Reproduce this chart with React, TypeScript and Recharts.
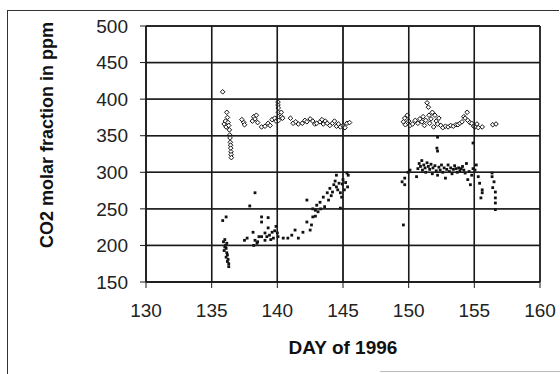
import React from 'react';
import { ScatterChart, Scatter, XAxis, YAxis, CartesianGrid, Label } from 'recharts';

const xTicks = [130, 135, 140, 145, 150, 155, 160];
const yTicks = [150, 200, 250, 300, 350, 400, 450, 500];

// Upper series (open diamonds)
const upperDays = [
  135.84, 136.15, 136.2, 135.95, 136.05, 136.1, 136.25, 136.3,
  136.35, 136.38, 136.4, 136.42, 136.44, 136.45, 136.47, 136.48, 136.5,
  137.3, 137.45, 137.5, 138.1, 138.2, 138.3, 138.4, 138.5,
  138.8, 139.06, 139.3, 139.45, 139.6, 139.8, 139.9,
  140.05, 140.05, 140.07, 140.08, 140.1, 140.1,
  140.3, 140.32, 140.4,
  141.0, 141.2, 141.4, 141.6, 141.9, 142.1, 142.25, 142.5, 142.7, 142.85,
  143.0, 143.25, 143.4, 143.5, 143.65, 143.8, 144.0, 144.2, 144.35, 144.5,
  144.65, 144.8, 145.0, 145.15, 145.3, 145.5,
  149.6, 149.7, 149.75, 149.9, 150.0, 150.1, 150.3, 150.5, 150.7, 150.85,
  151.0, 151.1, 151.2, 151.3, 151.4, 151.5, 151.55, 151.6, 151.7, 151.8,
  151.9, 152.0, 152.1, 152.2, 152.3, 152.45, 152.6, 152.8, 153.0, 153.2,
  153.4, 153.6, 153.75, 153.9, 154.06, 154.2, 154.3, 154.45, 154.5, 154.65,
  154.8, 154.95, 155.05, 155.2, 155.3, 155.6, 156.4, 156.65,
];
const upperValues = [
  410, 382, 375, 366, 370, 362, 368, 364,
  358, 351, 347, 341, 337, 333, 328, 324, 320,
  372, 368, 365, 370, 376, 373, 378, 368,
  362, 363, 367, 364, 372, 374, 370,
  396, 392, 388, 382, 376, 371,
  382, 376, 374,
  374, 367, 369, 366, 367, 371, 369, 373, 370, 366,
  367, 369, 372, 366, 370, 367, 364, 367, 370, 363,
  366, 362, 364, 361, 367, 368,
  369, 374, 365, 378, 370, 364, 366, 371, 367, 373,
  369, 376, 364, 371, 395, 389, 378, 367, 373, 382,
  362, 378, 370, 366, 374, 364, 361, 363, 362, 364,
  363, 365, 365, 367, 369, 376, 374, 382, 371, 368,
  367, 363, 362, 366, 361, 362, 365, 366,
];

// Lower series (small filled dots)
const lowerDays = [
  135.84, 136.1, 135.9, 136.0, 136.05, 136.1, 135.95, 136.15, 136.2, 136.1,
  136.25, 136.2, 136.3, 136.3, 136.0, 136.15,
  137.5, 137.7, 137.9, 138.3,
  138.15, 138.2, 138.3, 138.45, 138.5, 138.6,
  138.8, 138.8, 139.3, 138.8, 139.06, 139.06, 139.2, 139.3, 139.4, 139.6,
  139.7, 139.8, 140.0, 140.05, 139.9, 139.5,
  140.45, 140.8, 141.1, 141.35, 141.6, 141.95, 142.25, 142.25, 142.5, 142.6,
  142.7, 142.9, 143.0, 143.25, 143.5, 143.6, 143.8, 143.9, 144.0, 144.2,
  144.3, 144.5, 144.6, 144.8, 144.9, 144.5, 145.3, 145.4, 144.8, 142.7,
  142.9, 143.1, 143.3, 144.1, 144.4, 144.7, 145.0, 145.2, 145.35, 145.1, 144.95,
  149.5, 149.7, 149.7, 149.95, 149.6, 150.1, 150.6,
  150.7, 150.8, 150.9, 151.0, 151.05, 151.15, 151.25, 151.3, 151.4, 151.5,
  151.6, 151.7, 151.8, 151.85, 152.0, 152.1, 152.2, 152.2, 152.3, 152.4,
  152.5, 152.6, 152.7, 152.8, 152.9, 153.0, 153.1, 153.2, 153.3, 153.4,
  153.5, 153.6, 153.7, 153.8, 153.9, 154.0, 154.1, 154.2, 154.3, 154.4,
  154.5, 154.6, 154.7, 154.8, 154.9, 155.05, 155.15, 155.3, 155.4, 155.6,
  155.6, 155.5,
  156.35, 156.35, 156.4, 156.6, 156.6, 156.6, 156.6, 156.5,
  152.2, 152.15, 154.9,
];
const lowerValues = [
  234, 239, 205, 208, 200, 196, 193, 190, 187, 184,
  181, 178, 175, 171, 198, 203,
  207, 210, 254, 272,
  218, 200, 207, 203, 205, 212,
  239, 232, 238, 212, 217, 207, 212, 224, 214, 218,
  210, 220, 217, 212, 226, 208,
  210, 210, 214, 221, 210, 218, 232, 262, 221, 228,
  239, 248, 255, 259, 266, 253, 272, 262, 278, 273,
  283, 280, 276, 272, 266, 296, 299, 296, 251, 250,
  240, 246, 250, 268, 288, 285, 290, 286, 280, 276, 284,
  287, 283, 292, 300, 228, 303, 294,
  305, 312, 308, 316, 303, 310, 306, 300, 313, 308,
  304, 311, 298, 306, 309, 302, 329, 296, 307, 303,
  310, 300, 306, 292, 304, 310, 301, 306, 298, 304,
  309, 305, 300, 306, 302, 305, 308, 303, 299, 312,
  290, 301, 283, 296, 305, 303, 310, 294, 285, 276,
  272, 265,
  299, 294, 279, 273, 265, 258, 249, 287,
  348, 333, 340,
];

const upperData = upperDays.map((d, i) => ({ day: d, v: upperValues[i] }));
const lowerData = lowerDays.map((d, i) => ({ day: d, v: lowerValues[i] }));

const FONT = '"Liberation Sans", Arial, sans-serif';
const GRID = '#1a1a1a';

// layout
const W = 560;
const H = 374;
const M = { top: 26, right: 20, bottom: 20, left: 6 };
const Y_AXIS_W = 140;
const X_AXIS_H = 72;
const PLOT_LEFT = M.left + Y_AXIS_W;
const PLOT_RIGHT = W - M.right;
const PLOT_TOP = M.top;
const PLOT_BOTTOM = H - M.bottom - X_AXIS_H;
const X_DOMAIN = [130, 160];
const Y_DOMAIN = [150, 500];
const gx = (v: number) => PLOT_LEFT + ((v - X_DOMAIN[0]) / (X_DOMAIN[1] - X_DOMAIN[0])) * (PLOT_RIGHT - PLOT_LEFT);
const gy = (v: number) => PLOT_TOP + ((Y_DOMAIN[1] - v) / (Y_DOMAIN[1] - Y_DOMAIN[0])) * (PLOT_BOTTOM - PLOT_TOP);

const Diamond = (props: any) => {
  const { cx, cy } = props;
  if (cx == null || cy == null) return <g />;
  const r = 2.3;
  return (
    <polygon
      points={`${cx},${cy - r} ${cx + r},${cy} ${cx},${cy + r} ${cx - r},${cy}`}
      fill="#fff"
      stroke="#111"
      strokeWidth={1}
    />
  );
};

const Dot = (props: any) => {
  const { cx, cy } = props;
  if (cx == null || cy == null) return <g />;
  return <rect x={cx - 1.4} y={cy - 1.4} width={2.8} height={2.8} fill="#111" />;
};

const YLabel = () => (
  <text
    x={47}
    y={135}
    transform="rotate(-90, 47, 135)"
    textAnchor="middle"
    dominantBaseline="central"
    fontFamily={FONT}
    fontSize={18}
    fontWeight="bold"
    fill="#111"
  >
    CO2 molar fraction in ppm
  </text>
);

export default function App() {
  return (
    <div style={{ position: 'absolute', left: 0, top: 0, width: W, height: H, background: '#fff' }}>
      <ScatterChart width={W} height={H} margin={M}>
        <CartesianGrid stroke={GRID} strokeWidth={1.4} />
        <XAxis
          type="number"
          dataKey="day"
          domain={X_DOMAIN}
          ticks={xTicks}
          height={X_AXIS_H}
          tickSize={6}
          tickMargin={16}
          stroke={GRID}
          tick={{ fontFamily: FONT, fontSize: 19, fill: '#222' }}
        >
          <Label
            value="DAY of 1996"
            position="insideBottom"
            offset={0}
            style={{ fontFamily: FONT, fontSize: 19, fontWeight: 'bold', fill: '#111' }}
          />
        </XAxis>
        <YAxis
          type="number"
          dataKey="v"
          domain={Y_DOMAIN}
          ticks={yTicks}
          width={Y_AXIS_W}
          tickSize={6}
          tickMargin={12}
          stroke={GRID}
          tick={{ fontFamily: FONT, fontSize: 19, fill: '#222' }}
        >
          <Label value="CO2 molar fraction in ppm" content={YLabel} />
        </YAxis>
        <Scatter data={upperData} shape={Diamond} isAnimationActive={false} />
        <Scatter data={lowerData} shape={Dot} isAnimationActive={false} />
      </ScatterChart>
      <svg width={W} height={H} style={{ position: 'absolute', left: 0, top: 0, pointerEvents: 'none' }}>
        {yTicks.map((t) => (
          <line key={`h${t}`} x1={PLOT_LEFT} x2={PLOT_RIGHT} y1={gy(t)} y2={gy(t)} stroke={GRID} strokeWidth={1.3} />
        ))}
        {xTicks.map((t) => (
          <line key={`v${t}`} x1={gx(t)} x2={gx(t)} y1={PLOT_TOP} y2={PLOT_BOTTOM} stroke={GRID} strokeWidth={1.3} />
        ))}
        <line x1={7.5} x2={7.5} y1={10} y2={374} stroke="#333" strokeWidth={1} />
        <line x1={7} x2={559} y1={10.5} y2={10.5} stroke="#333" strokeWidth={1} />
        <line x1={380} x2={560} y1={371.5} y2={371.5} stroke="#bbb" strokeWidth={1} />
      </svg>
    </div>
  );
}
